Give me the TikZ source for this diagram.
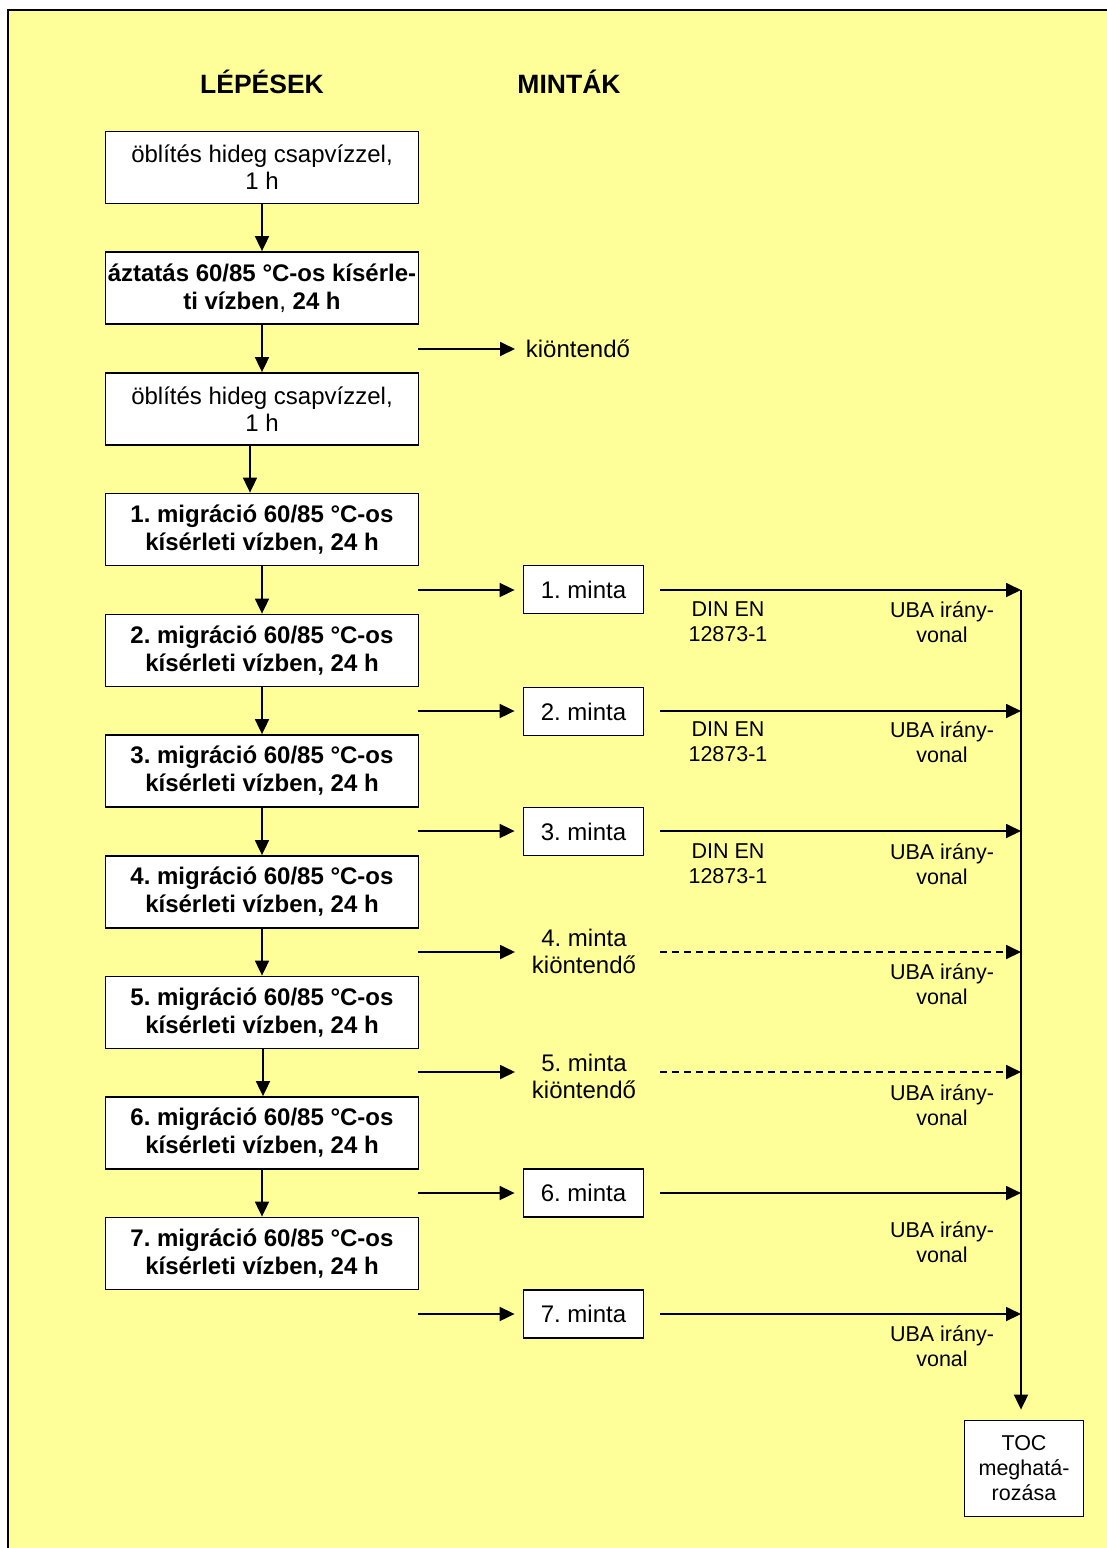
\documentclass[tikz,border=0pt]{standalone}
\usepackage{fontspec}
\setmainfont{Liberation Sans}
\usetikzlibrary{arrows.meta}
\definecolor{bgyellow}{HTML}{FFFF99}
\frenchspacing
\begin{document}
\begin{tikzpicture}[x=1pt,y=-1pt,line width=1.8pt,
  arr/.style={-{Triangle[length=15pt,width=14pt]}},
  stepbox/.style={draw,fill=white,minimum width=313pt,minimum height=72pt,inner sep=0pt,align=center,font=\fontsize{24}{28}\selectfont\bfseries},
  plainbox/.style={draw,fill=white,minimum width=313pt,minimum height=72pt,inner sep=0pt,align=center,font=\fontsize{24}{27}\selectfont},
  mintabox/.style={draw,fill=white,minimum width=120pt,minimum height=48pt,inner sep=0pt,align=center,font=\fontsize{24}{27}\selectfont},
  lbl/.style={align=center,inner sep=0pt,font=\fontsize{21.5}{25}\selectfont},
  hdr/.style={font=\fontsize{26.5}{30}\selectfont\bfseries},
  dsh/.style={dash pattern=on 7pt off 5pt}]
\useasboundingbox (0,0) rectangle (1107,1548);
\fill[white] (0,0) rectangle (1107,1548);
\fill[bgyellow] (8,10) rectangle (1107,1548);
\draw[line width=2pt] (8,1548) -- (8,10) -- (1107,10);

\node[hdr] (h1) at (262,82) {LÉPÉSEK};
\node[hdr] (h2) at (569,82) {MINTÁK};

\node[plainbox] (b1) at (262,167.5) {öblítés hideg csapvízzel,\\1 h};
\node[stepbox] (b2) at (262,288) {áztatás 60/85 °C-os kísérle-\\ti vízben{\mdseries ,} 24 h};
\node[plainbox] (b3) at (262,409) {öblítés hideg csapvízzel,\\1 h};
\node[stepbox] (b4) at (262,529.5) {1. migráció 60/85 °C-os\\kísérleti vízben, 24 h};
\node[stepbox] (b5) at (262,650.5) {2. migráció 60/85 °C-os\\kísérleti vízben, 24 h};
\node[stepbox] (b6) at (262,771) {3. migráció 60/85 °C-os\\kísérleti vízben, 24 h};
\node[stepbox] (b7) at (262,892) {4. migráció 60/85 °C-os\\kísérleti vízben, 24 h};
\node[stepbox] (b8) at (262,1012.5) {5. migráció 60/85 °C-os\\kísérleti vízben, 24 h};
\node[stepbox] (b9) at (262,1133) {6. migráció 60/85 °C-os\\kísérleti vízben, 24 h};
\node[stepbox] (b10) at (262,1253.5) {7. migráció 60/85 °C-os\\kísérleti vízben, 24 h};

\draw[arr] (b1) -- (b2);
\draw[arr] (b2) -- (b3);
\draw[arr] ([xshift=-12pt]b3.south) -- ([xshift=-12pt]b4.north);
\draw[arr] (b4) -- (b5);
\draw[arr] (b5) -- (b6);
\draw[arr] (b6) -- (b7);
\draw[arr] (b7) -- (b8);
\draw[arr] ([xshift=1pt]b8.south) -- ([xshift=1pt]b9.north);
\draw[arr] (b9) -- (b10);

% samples
\node[mintabox] (m1) at (583.5,589.5) {1. minta};
\node[mintabox] (m2) at (583.5,711.5) {2. minta};
\node[mintabox] (m3) at (583.5,831.5) {3. minta};
\node[lbl,font=\fontsize{24}{27}\selectfont] (m4) at (584,951) {4. minta\\kiöntendő};
\node[lbl,font=\fontsize{24}{27}\selectfont] (m5) at (584,1076) {5. minta\\kiöntendő};
\node[mintabox] (m6) at (583.5,1193) {6. minta};
\node[mintabox] (m7) at (583.5,1314) {7. minta};
\node[anchor=west,inner sep=0pt,font=\fontsize{24}{27}\selectfont] (k0) at (525,349) {kiöntendő};

\coordinate (L0) at (418,349);
\coordinate (L1) at (418,590);
\coordinate (L2) at (418,711);
\coordinate (L3) at (418,831);
\coordinate (L4) at (418,952);
\coordinate (E4) at (515,952);
\coordinate (L5) at (418,1072);
\coordinate (E5) at (515,1072);
\coordinate (L6) at (418,1193);
\coordinate (L7) at (418,1314);

\draw[arr] (L0) -- (k0.west) [shorten >=10pt];
\draw[arr,shorten >=8pt] (L1) -- (L1 -| m1.west);
\draw[arr,shorten >=8pt] (L2) -- (L2 -| m2.west);
\draw[arr,shorten >=8pt] (L3) -- (L3 -| m3.west);
\draw[arr] (L4) -- (E4);
\draw[arr] (L5) -- (E5);
\draw[arr,shorten >=8pt] (L6) -- (L6 -| m6.west);
\draw[arr,shorten >=8pt] (L7) -- (L7 -| m7.west);

% collector
\coordinate (ctop) at (1021,590);
\node[draw,fill=white,minimum width=119pt,minimum height=96pt,inner sep=0pt,align=center,font=\fontsize{21.5}{25}\selectfont] (toc) at (1024,1468.5) {TOC\\meghatá-\\rozása};

\coordinate (R1) at (660,590);
\coordinate (R2) at (660,711);
\coordinate (R3) at (660,831);
\coordinate (R4) at (660,952);
\coordinate (R5) at (660,1072);
\coordinate (R6) at (660,1193);
\coordinate (R7) at (660,1314);

\draw[arr] (R1) -- (R1 -| ctop);
\draw[arr] (R2) -- (R2 -| ctop);
\draw[arr] (R3) -- (R3 -| ctop);
\draw[arr,dsh] (R4) -- (R4 -| ctop);
\draw[arr,dsh] (R5) -- (R5 -| ctop);
\draw[arr] (R6) -- (R6 -| ctop);
\draw[arr] (R7) -- (R7 -| ctop);
\draw[arr,shorten >=10pt] (ctop) -- (ctop |- toc.north);

% labels
\node[lbl] (d1) at (728,622) {DIN EN\\12873-1};
\node[lbl] (d2) at (728,742) {DIN EN\\12873-1};
\node[lbl] (d3) at (728,864) {DIN EN\\12873-1};
\node[lbl] (u1) at (942,622) {UBA irány-\\vonal};
\node[lbl] (u2) at (942,742) {UBA irány-\\vonal};
\node[lbl] (u3) at (942,864) {UBA irány-\\vonal};
\node[lbl] (u4) at (942,984) {UBA irány-\\vonal};
\node[lbl] (u5) at (942,1105) {UBA irány-\\vonal};
\node[lbl] (u6) at (942,1242) {UBA irány-\\vonal};
\node[lbl] (u7) at (942,1346) {UBA irány-\\vonal};
\end{tikzpicture}
\end{document}
